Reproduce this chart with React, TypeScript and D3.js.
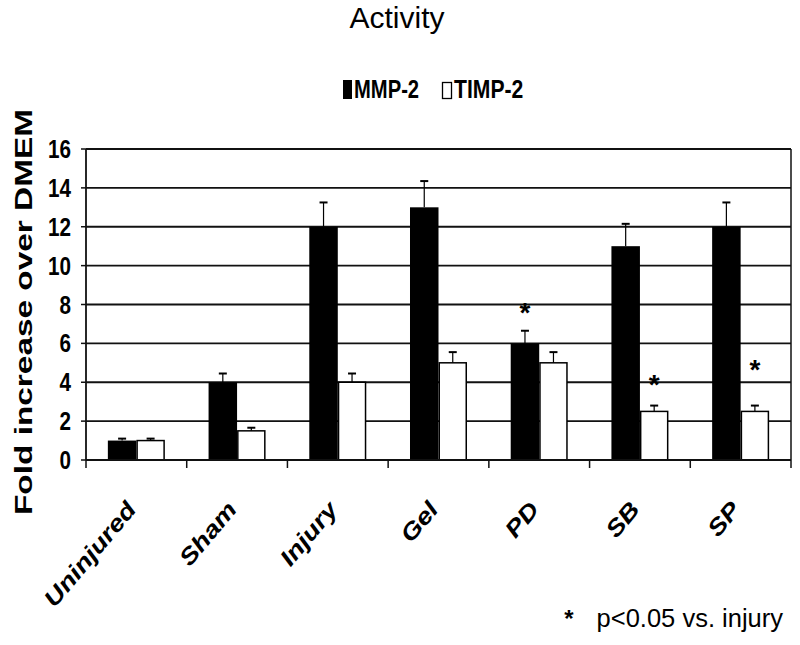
import { useEffect, useRef } from 'react';
import * as d3 from 'd3';

// groups and series
const categories = ['Uninjured', 'Sham', 'Injury', 'Gel', 'PD', 'SB', 'SP'];
const seriesNames = ['MMP-2', 'TIMP-2'];
const mmp2 = [1, 4, 12, 13, 6, 11, 12];
const mmp2Err = [0.1, 0.45, 1.25, 1.35, 0.65, 1.15, 1.25];
const timp2 = [1, 1.5, 4, 5, 5, 2.5, 2.5];
const timp2Err = [0.1, 0.16, 0.45, 0.55, 0.55, 0.3, 0.3];
const yTicks = [0, 2, 4, 6, 8, 10, 12, 14, 16];
// significance marks: category, series, height of the star
const starCats = ['PD', 'SB', 'SP'];
const starSeries = ['MMP-2', 'TIMP-2', 'TIMP-2'];
const starValues = [7.9, 4.2, 5.0];

const FONT = '"Liberation Sans", Arial, sans-serif';

export default function App() {
  const svgRef = useRef<SVGSVGElement | null>(null);

  useEffect(() => {
    if (!svgRef.current) return;
    const svg = d3.select(svgRef.current);
    svg.selectAll('*').remove();

    const left = 86, right = 791, top = 149, bottom = 460;

    const x = d3.scaleBand<string>()
      .domain(categories)
      .range([left, right])
      .paddingInner(0.434)
      .paddingOuter(0.217);
    const xs = d3.scaleBand<string>().domain(seriesNames).range([0, x.bandwidth()]);
    const y = d3.scaleLinear().domain([0, 16]).range([bottom, top]);
    const step = x.step();

    // title
    svg.append('text')
      .attr('x', 397).attr('y', 28)
      .attr('text-anchor', 'middle')
      .attr('font-family', FONT).attr('font-size', 30)
      .text('Activity');

    // legend
    const lg = svg.append('g');
    lg.append('rect').attr('x', 343).attr('y', 80).attr('width', 9).attr('height', 19).attr('fill', '#000');
    lg.append('text')
      .attr('transform', 'translate(354,98) scale(0.86,1.08)')
      .attr('font-family', FONT).attr('font-weight', 'bold').attr('font-size', 23.5)
      .text('MMP-2');
    lg.append('rect').attr('x', 442.5).attr('y', 82.5).attr('width', 9).attr('height', 16)
      .attr('fill', '#fff').attr('stroke', '#000').attr('stroke-width', 1.3);
    lg.append('text')
      .attr('transform', 'translate(454,98) scale(0.9,1.08)')
      .attr('font-family', FONT).attr('font-weight', 'bold').attr('font-size', 23.5)
      .text('TIMP-2');

    // gridlines
    svg.append('g').selectAll('line')
      .data(yTicks.filter((t) => t > 0))
      .join('line')
      .attr('x1', left).attr('x2', right)
      .attr('y1', (d) => y(d)).attr('y2', (d) => y(d))
      .attr('stroke', '#111').attr('stroke-width', 1.8);

    // right border
    svg.append('line')
      .attr('x1', right).attr('x2', right).attr('y1', y(16)).attr('y2', y(0))
      .attr('stroke', '#111').attr('stroke-width', 1.5);

    // bars
    const rows = categories.map((c, i) => ({ c, vals: [mmp2[i], timp2[i]], errs: [mmp2Err[i], timp2Err[i]] }));
    const groups = svg.append('g').selectAll('g')
      .data(rows)
      .join('g')
      .attr('transform', (d) => `translate(${x(d.c)},0)`);

    groups.each(function (d) {
      const g = d3.select(this);
      seriesNames.forEach((s, k) => {
        const bx = xs(s)!;
        const bw = xs.bandwidth();
        const v = d.vals[k];
        g.append('rect')
          .attr('x', bx + (k === 1 ? 0.75 : 0))
          .attr('y', y(v))
          .attr('width', bw - (k === 1 ? 1.5 : 0))
          .attr('height', y(0) - y(v))
          .attr('fill', k === 0 ? '#000' : '#fff')
          .attr('stroke', k === 0 ? 'none' : '#000')
          .attr('stroke-width', 1.5);
        const cx = bx + bw / 2;
        const yt = y(v + d.errs[k]);
        g.append('line')
          .attr('x1', cx).attr('x2', cx).attr('y1', y(v)).attr('y2', yt)
          .attr('stroke', '#000').attr('stroke-width', 1.2);
        g.append('line')
          .attr('x1', cx - 4).attr('x2', cx + 4).attr('y1', yt).attr('y2', yt)
          .attr('stroke', '#000').attr('stroke-width', 2);
      });
    });

    // left axis
    svg.append('line')
      .attr('x1', left).attr('x2', left).attr('y1', y(16)).attr('y2', y(0))
      .attr('stroke', '#111').attr('stroke-width', 1.8);
    svg.append('g').selectAll('line')
      .data(yTicks)
      .join('line')
      .attr('x1', left - 5).attr('x2', left)
      .attr('y1', (d) => y(d)).attr('y2', (d) => y(d))
      .attr('stroke', '#111').attr('stroke-width', 1.5);
    svg.append('g').selectAll('text')
      .data(yTicks)
      .join('text')
      .attr('transform', (d) => `translate(71,${y(d) + 9}) scale(0.86,1.05)`)
      .attr('text-anchor', 'end')
      .attr('font-family', FONT).attr('font-weight', 'bold').attr('font-size', 24)
      .text((d) => d);

    // bottom axis
    svg.append('line')
      .attr('x1', left).attr('x2', right).attr('y1', y(0)).attr('y2', y(0))
      .attr('stroke', '#111').attr('stroke-width', 1.8);
    svg.append('g').selectAll('line')
      .data(d3.range(categories.length + 1))
      .join('line')
      .attr('x1', (i) => left + i * step).attr('x2', (i) => left + i * step)
      .attr('y1', y(0)).attr('y2', y(0) + 8)
      .attr('stroke', '#111').attr('stroke-width', 1.5);
    svg.append('g').selectAll('text')
      .data(categories)
      .join('text')
      .attr('transform', (d) => `translate(${x(d)! + x.bandwidth() / 2 + 1},510) rotate(-50) scale(1.2,1)`)
      .attr('text-anchor', 'end')
      .attr('font-family', FONT).attr('font-weight', 'bold').attr('font-style', 'italic')
      .attr('font-size', 23)
      .text((d) => d);

    // y axis title
    svg.append('text')
      .attr('transform', 'translate(32,312) rotate(-90) scale(1.42,1)')
      .attr('text-anchor', 'middle')
      .attr('font-family', FONT).attr('font-weight', 'bold').attr('font-size', 23.5)
      .text('Fold increase over DMEM');

    // significance stars
    svg.append('g').selectAll('text')
      .data(starCats.map((c, i) => ({ c, s: starSeries[i], v: starValues[i] })))
      .join('text')
      .attr('x', (d) => x(d.c)! + xs(d.s)! + xs.bandwidth() / 2)
      .attr('y', (d) => y(d.v) + 16)
      .attr('text-anchor', 'middle')
      .attr('font-family', FONT).attr('font-weight', 'bold').attr('font-size', 28)
      .text('*');

    // footnote
    svg.append('text')
      .attr('x', 569).attr('y', 627)
      .attr('text-anchor', 'middle')
      .attr('font-family', FONT).attr('font-weight', 'bold').attr('font-size', 24)
      .text('*');
    svg.append('text')
      .attr('x', 783).attr('y', 627)
      .attr('text-anchor', 'end')
      .attr('font-family', FONT).attr('font-size', 25.5)
      .text('p<0.05 vs. injury');
  }, []);

  return (
    <svg
      ref={svgRef}
      width={800}
      height={645}
      style={{ position: 'absolute', left: 0, top: 0, background: '#fff' }}
    />
  );
}
